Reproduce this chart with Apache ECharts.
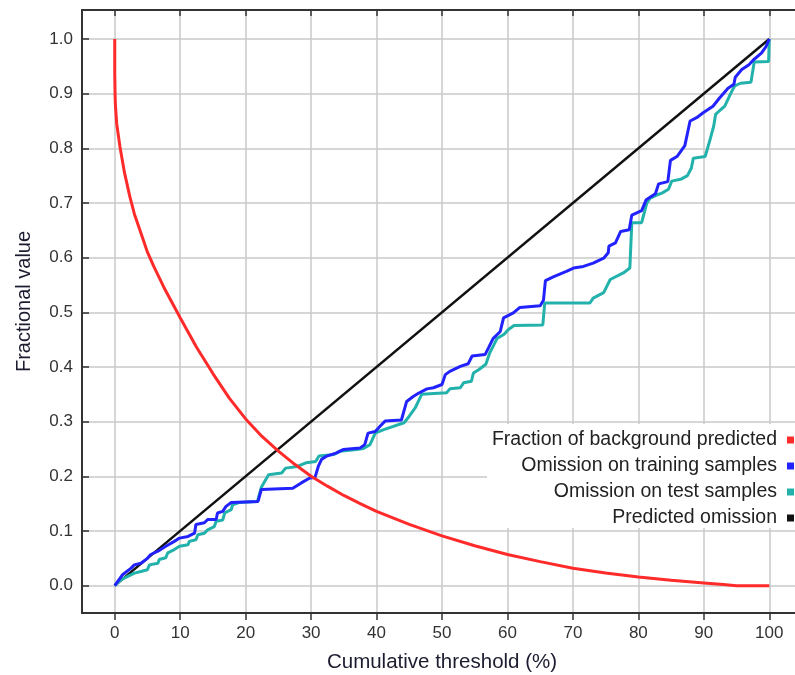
<!DOCTYPE html>
<html><head><meta charset="utf-8">
<script src="https://cdn.jsdelivr.net/npm/echarts@6/dist/echarts.min.js"></script>
<style>html,body{margin:0;padding:0;background:#fff}#c{width:795px;height:675px}</style>
</head><body><div id="c"></div>
<script>
// ---- tick labels ----
const xTicks = [0, 10, 20, 30, 40, 50, 60, 70, 80, 90, 100];
const yTicks = [0, 0.1, 0.2, 0.3, 0.4, 0.5, 0.6, 0.7, 0.8, 0.9, 1.0];

// ---- series names ----
const seriesNames = ['Fraction of background predicted', 'Omission on training samples', 'Omission on test samples', 'Predicted omission'];

// ---- Fraction of background predicted ----
const bgX = [0, 0, 0.05, 0.1, 0.3, 0.8, 1.5, 2.3, 3, 4, 5, 6, 7.5, 10, 12.5, 15, 17.5, 20, 22.5, 25, 27.5, 30, 32.5, 35, 37.5, 40, 45, 50, 55, 60, 65, 70, 75, 80, 85, 90, 93, 95, 100];
const bgY = [1.0, 0.94, 0.9, 0.88, 0.845, 0.803, 0.755, 0.712, 0.68, 0.645, 0.61, 0.583, 0.546, 0.49, 0.436, 0.388, 0.343, 0.305, 0.273, 0.246, 0.222, 0.2, 0.182, 0.165, 0.15, 0.136, 0.112, 0.091, 0.073, 0.057, 0.044, 0.032, 0.023, 0.016, 0.01, 0.005, 0.002, 0.0, 0.0];

// ---- Omission on training samples ----
const trainX = [0, 1.2, 2.5, 3, 4, 5, 5.5, 6.6, 7.8, 9.1, 9.9, 11.2, 12.2, 12.4, 13.7, 14.2, 15.5, 15.7, 16.5, 17, 17.8, 21.9, 22.4, 27.2, 28.5, 29.8, 30.6, 31.1, 31.6, 32.4, 33.9, 34.9, 37.5, 38.2, 38.7, 39.8, 40.5, 41.3, 43.8, 44.6, 45.6, 46.4, 47.7, 48.7, 50, 50.5, 51.2, 52.8, 54, 54.6, 56.6, 57.1, 57.8, 58.9, 59.4, 60.9, 61.9, 65, 65.5, 65.8, 67, 69, 70.1, 71.6, 73.1, 74.7, 75.4, 75.5, 76.5, 77.3, 78.6, 79, 80.5, 81.2, 82.6, 83.1, 84.5, 84.9, 85.9, 87.1, 87.9, 88.9, 89.9, 91.4, 92.4, 93.7, 94.6, 94.8, 95.8, 96.9, 97.6, 98.8, 99.5, 100];
const trainY = [0, 0.02, 0.032, 0.038, 0.041, 0.05, 0.057, 0.063, 0.072, 0.081, 0.087, 0.09, 0.096, 0.112, 0.115, 0.121, 0.121, 0.133, 0.136, 0.145, 0.152, 0.154, 0.176, 0.178, 0.188, 0.197, 0.198, 0.218, 0.231, 0.237, 0.243, 0.249, 0.252, 0.258, 0.279, 0.282, 0.291, 0.301, 0.303, 0.337, 0.346, 0.352, 0.36, 0.362, 0.368, 0.386, 0.392, 0.401, 0.406, 0.42, 0.423, 0.435, 0.452, 0.465, 0.49, 0.499, 0.509, 0.512, 0.522, 0.558, 0.565, 0.575, 0.581, 0.584, 0.59, 0.599, 0.609, 0.621, 0.627, 0.648, 0.651, 0.678, 0.686, 0.706, 0.717, 0.735, 0.739, 0.778, 0.785, 0.805, 0.85, 0.856, 0.865, 0.877, 0.892, 0.91, 0.917, 0.93, 0.944, 0.953, 0.962, 0.974, 0.986, 1.0];

// ---- Omission on test samples ----
const testX = [0, 1, 2, 3, 4, 5, 5.3, 6.6, 6.8, 7.8, 8.1, 9.1, 9.9, 11.2, 11.4, 12.4, 12.7, 13.7, 14.2, 15.2, 15.5, 16.5, 16.8, 17.8, 18, 19, 21.8, 22.4, 23.5, 25.5, 26.1, 27.9, 29.3, 30.7, 31.2, 33.5, 34.4, 37, 38, 39, 39.8, 41, 44.2, 45, 45.9, 46.9, 50.7, 51.2, 52.8, 53.3, 54.5, 54.8, 55.6, 56.7, 57.3, 57.9, 58.4, 59.5, 60.1, 61, 65.4, 65.7, 72.6, 73.1, 74.7, 75.7, 77.7, 78.7, 79, 80.5, 81.3, 81.8, 82.9, 83.6, 84.6, 85.1, 86.6, 87.5, 88.1, 88.4, 90.2, 90.5, 91, 91.5, 91.8, 92.6, 93.2, 94.1, 94.7, 95.6, 97.2, 97.7, 99.9, 100];
const testY = [0, 0.011, 0.017, 0.023, 0.026, 0.029, 0.038, 0.041, 0.048, 0.051, 0.06, 0.066, 0.072, 0.075, 0.081, 0.084, 0.093, 0.096, 0.102, 0.108, 0.118, 0.12, 0.133, 0.139, 0.148, 0.152, 0.154, 0.18, 0.203, 0.206, 0.215, 0.218, 0.225, 0.227, 0.237, 0.24, 0.246, 0.249, 0.251, 0.258, 0.279, 0.285, 0.298, 0.31, 0.325, 0.35, 0.353, 0.36, 0.362, 0.371, 0.374, 0.389, 0.395, 0.405, 0.426, 0.44, 0.452, 0.46, 0.468, 0.476, 0.477, 0.517, 0.517, 0.526, 0.536, 0.56, 0.572, 0.581, 0.664, 0.664, 0.7, 0.709, 0.715, 0.718, 0.725, 0.74, 0.744, 0.75, 0.764, 0.782, 0.785, 0.797, 0.818, 0.84, 0.862, 0.871, 0.877, 0.9, 0.914, 0.919, 0.921, 0.958, 0.959, 1.0];

// ---- Predicted omission ----
const predX = [0, 100];
const predY = [0, 1];

const zip = (xs, ys) => xs.map((x, i) => [x, ys[i]]);
const FONT = 'Liberation Sans';

const chart = echarts.init(document.getElementById('c'), null, {renderer: 'canvas'});

function legendFor(name, top) {
  return {
    data: [name], right: 1, top: top, orient: 'horizontal', align: 'right',
    icon: 'rect', itemWidth: 7, itemHeight: 7, padding: 0, selectedMode: false,
    textStyle: {fontFamily: FONT, fontSize: 19.5, color: '#222', padding: [0, 5, 0, 0]}
  };
}

chart.setOption({
  animation: false,
  backgroundColor: '#fff',
  grid: {left: 82, top: 10, width: 720, height: 603, containLabel: false, outerBoundsMode: 'none'},
  graphic: [{type: 'rect', left: 487, top: 424, shape: {width: 310, height: 104}, style: {fill: '#fff'}, z: 1, silent: true}],
  legend: [
    legendFor(seriesNames[0], 430),
    legendFor(seriesNames[1], 456),
    legendFor(seriesNames[2], 482),
    legendFor(seriesNames[3], 508)
  ],
  xAxis: [{
    type: 'value', min: -5, max: 105, position: 'bottom',
    name: 'Cumulative threshold (%)', nameLocation: 'middle', nameGap: 39,
    nameTextStyle: {fontFamily: FONT, fontSize: 20.5, color: '#1c1c30'},
    axisLine: {show: true, onZero: false, lineStyle: {color: '#333', width: 2}},
    axisTick: {show: true, inside: false, length: 7, customValues: xTicks, lineStyle: {color: '#333', width: 1.5}},
    axisLabel: {show: true, customValues: xTicks, margin: 12, fontFamily: FONT, fontSize: 17, color: '#333'},
    splitLine: {show: true, customValues: xTicks, lineStyle: {color: '#c8c8c8', width: 1.5}}
  }, {
    type: 'value', min: -5, max: 105, position: 'top',
    axisLine: {show: true, onZero: false, lineStyle: {color: '#333', width: 2}},
    axisTick: {show: true, inside: true, length: 6, customValues: xTicks, lineStyle: {color: '#333', width: 1.5}},
    axisLabel: {show: false},
    splitLine: {show: false}
  }],
  yAxis: [{
    type: 'value', min: -0.05, max: 1.053, position: 'left',
    name: 'Fractional value', nameLocation: 'middle', nameGap: 48,
    nameTextStyle: {fontFamily: FONT, fontSize: 20, color: '#1c1c30', padding: [0, 0, 0, 20]},
    axisLine: {show: true, onZero: false, lineStyle: {color: '#333', width: 2}},
    axisTick: {show: true, inside: true, length: 7, customValues: yTicks, lineStyle: {color: '#333', width: 1.5}},
    axisLabel: {show: true, customValues: yTicks, margin: 9, fontFamily: FONT, fontSize: 17, color: '#333',
      formatter: v => Number(v).toFixed(1)},
    splitLine: {show: true, customValues: yTicks, lineStyle: {color: '#c8c8c8', width: 1.5}}
  }],
  series: [
    {name: seriesNames[3], type: 'line', data: zip(predX, predY), showSymbol: false, symbol: 'none',
      lineStyle: {color: '#111', width: 2.5}, itemStyle: {color: '#111'}, z: 2},
    {name: seriesNames[2], type: 'line', data: zip(testX, testY), showSymbol: false, symbol: 'none',
      lineStyle: {color: '#22b2ab', width: 3}, itemStyle: {color: '#22b2ab'}, z: 3},
    {name: seriesNames[1], type: 'line', data: zip(trainX, trainY), showSymbol: false, symbol: 'none',
      lineStyle: {color: '#2222ff', width: 3}, itemStyle: {color: '#2222ff'}, z: 4},
    {name: seriesNames[0], type: 'line', data: zip(bgX, bgY), showSymbol: false, symbol: 'none',
      lineStyle: {color: '#ff2a2a', width: 3}, itemStyle: {color: '#ff2a2a'}, z: 5}
  ]
});
</script>
</body></html>
